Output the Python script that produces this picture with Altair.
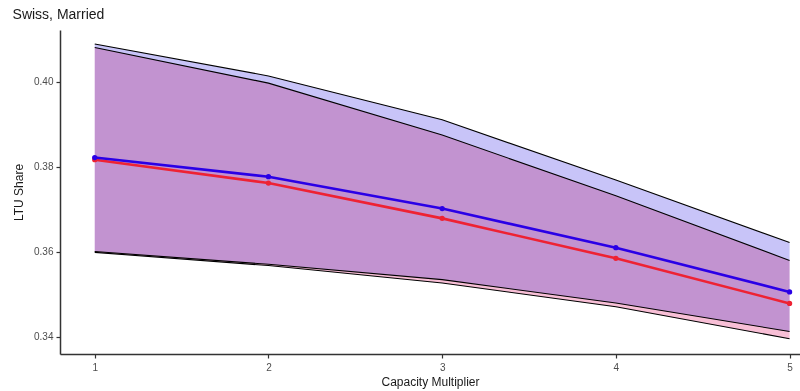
import altair as alt
import pandas as pd

# Capacity multiplier on the x axis
multiplier = [1, 2, 3, 4, 5]

# Blue series: central estimate and band
blue_mid = [0.3822, 0.3777, 0.3702, 0.3610, 0.3506]
blue_lo = [0.3601, 0.3571, 0.3535, 0.3480, 0.3413]
blue_hi = [0.4089, 0.4014, 0.3911, 0.3769, 0.3622]

# Red series: central estimate and band
red_mid = [0.3817, 0.3762, 0.3679, 0.3585, 0.3479]
red_lo = [0.3599, 0.3568, 0.3527, 0.3471, 0.3396]
red_hi = [0.4081, 0.3997, 0.3875, 0.3732, 0.3580]

y_ticks = [0.34, 0.36, 0.38, 0.40]

blue = pd.DataFrame({"x": multiplier, "mid": blue_mid, "lo": blue_lo, "hi": blue_hi})
red = pd.DataFrame({"x": multiplier, "mid": red_mid, "lo": red_lo, "hi": red_hi})

x_scale = alt.Scale(domain=[0.8, 5.06], nice=False, zero=False)
y_scale = alt.Scale(domain=[0.336, 0.4122], nice=False, zero=False)

x_enc = alt.X("x:Q", scale=x_scale,
              axis=alt.Axis(values=multiplier, format="d", title="Capacity Multiplier"))
y_axis = alt.Axis(values=y_ticks, format=".2f", title="LTU Share")


def band(df, fill, blend=None):
    kw = {"fill": fill, "opacity": 1}
    if blend:
        kw["blend"] = blend
    return alt.Chart(df).mark_area(**kw).encode(
        x=x_enc,
        y=alt.Y("lo:Q", scale=y_scale, axis=y_axis),
        y2="hi:Q",
    )


def edge(df, field):
    return alt.Chart(df).mark_line(color="black", strokeWidth=1.1).encode(
        x=x_enc, y=alt.Y(f"{field}:Q", scale=y_scale, axis=y_axis)
    )


def centre(df, color):
    base = alt.Chart(df).encode(x=x_enc, y=alt.Y("mid:Q", scale=y_scale, axis=y_axis))
    return (base.mark_line(color=color, strokeWidth=2.6)
            + base.mark_circle(color=color, size=28, opacity=1))


chart = alt.layer(
    band(blue, "#c8c4f8"),
    edge(blue, "hi"),
    edge(blue, "lo"),
    band(red, "#f8bfd6", blend="multiply"),
    edge(red, "hi"),
    edge(red, "lo"),
    centre(red, "#ee2233"),
    centre(blue, "#2a00e6"),
).properties(
    width=740,
    height=324,
    autosize=alt.AutoSizeParams(type="none"),
    padding={"left": 60, "top": 30, "right": 0, "bottom": 37},
    title=alt.TitleParams("Swiss, Married", anchor="start", offset=8,
                          fontSize=14, fontWeight="normal", font="Liberation Sans",
                          color="#1a1a1a"),
).configure_view(stroke=None).configure_axis(
    grid=False,
    domainColor="#333333",
    domainWidth=1.5,
    tickColor="#333333",
    tickSize=4,
    tickWidth=1.2,
    labelColor="#4d4d4d",
    labelFontSize=10,
    labelFont="Liberation Sans",
    titleFont="Liberation Sans",
    titleFontSize=12,
    titleFontWeight="normal",
    titleColor="#1a1a1a",
).configure_axisY(titlePadding=8, labelPadding=3).configure_axisX(titlePadding=4, labelPadding=4)

chart.save("out.html", embed_options={"renderer": "svg", "actions": False})
